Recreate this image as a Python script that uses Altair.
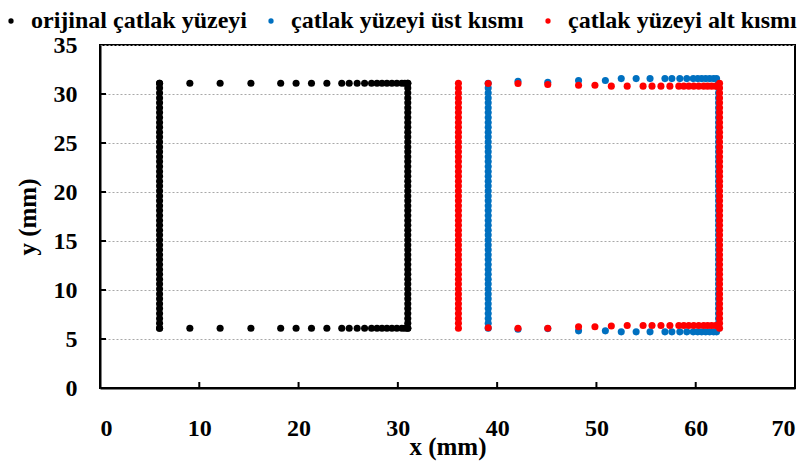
import altair as alt
import pandas as pd

# ---------------- data ----------------
series_names = ["orijinal çatlak yüzeyi", "çatlak yüzeyi üst kısmı", "çatlak yüzeyi alt kısmı"]
series_colors = ["#000000", "#0070C0", "#FF0000"]

# dense vertical columns (y values, mm)
col_y = [6.1, 6.6, 7.1, 7.6, 8.1, 8.6, 9.1, 9.6, 10.1, 10.6, 11.1, 11.6, 12.1, 12.6,
         13.1, 13.6, 14.1, 14.6, 15.1, 15.6, 16.1, 16.6, 17.1, 17.6, 18.1, 18.6, 19.1,
         19.6, 20.1, 20.6, 21.1, 21.6, 22.1, 22.6, 23.1, 23.6, 24.1, 24.6, 25.1, 25.6,
         26.1, 26.6, 27.1, 27.6, 28.1, 28.6, 29.1, 29.6, 30.1, 30.6, 31.1]

# original crack surface (black)
orig_left_x = 6.0
orig_right_x = 31.0
orig_row_x = [6.0, 9.05, 12.1, 15.2, 18.2, 19.75, 21.3, 22.85, 24.35, 25.1, 25.9, 26.65,
              27.35, 27.9, 28.4, 28.9, 29.4, 29.9, 30.4, 30.7, 31.0]
orig_top_y = 31.1
orig_bot_y = 6.1

# upper part (blue)
ust_left_x = 39.1
ust_right_x = 62.3
ust_row_x = [42.1, 45.1, 48.2, 50.9, 52.5, 54.0, 55.4, 56.9, 57.6, 58.4, 59.1, 59.75,
             60.2, 60.6, 61.0, 61.4, 61.8, 62.1]
ust_top_y = [31.3, 31.2, 31.37, 31.37, 31.57, 31.57, 31.57, 31.57, 31.57, 31.57, 31.57,
             31.57, 31.57, 31.57, 31.57, 31.57, 31.57, 31.57]
ust_bot_y = [5.99, 6.06, 5.83, 5.83, 5.73, 5.73, 5.73, 5.73, 5.73, 5.73, 5.73, 5.73,
             5.73, 5.73, 5.73, 5.73, 5.73, 5.73]

# lower part (red)
alt_left_x = 36.1
alt_right_x = 62.4
alt_row_x = [39.1, 42.1, 45.1, 48.2, 49.85, 51.5, 53.1, 54.7, 55.6, 56.5, 57.4, 58.3,
             58.8, 59.3, 59.8, 60.3, 60.8, 61.2, 61.6, 62.0]
alt_top_y = [31.07, 31.07, 30.97, 30.9, 30.9, 30.8, 30.8, 30.8, 30.8, 30.8, 30.8, 30.8,
             30.8, 30.8, 30.8, 30.8, 30.8, 30.8, 30.8, 30.8]
alt_bot_y = [6.15, 6.1, 6.1, 6.25, 6.25, 6.32, 6.38, 6.38, 6.38, 6.38, 6.38, 6.38,
             6.38, 6.38, 6.38, 6.38, 6.38, 6.38, 6.38, 6.38]

x_ticks = [0, 10, 20, 30, 40, 50, 60, 70]
y_ticks = [0, 5, 10, 15, 20, 25, 30, 35]

# ---------------- build table ----------------
rows = []
def add(series, z, xs, ys):
    for xv, yv in zip(xs, ys):
        rows.append({"x": xv, "y": yv, "series": series, "z": z})

s0, s1, s2 = series_names
add(s0, 0, [orig_left_x] * len(col_y), col_y)
add(s0, 0, [orig_right_x] * len(col_y), col_y)
add(s0, 0, orig_row_x, [orig_top_y] * len(orig_row_x))
add(s0, 0, orig_row_x, [orig_bot_y] * len(orig_row_x))

add(s1, 1, [ust_left_x] * len(col_y), col_y)
add(s1, 1, [ust_right_x] * len(col_y), col_y)
add(s1, 1, ust_row_x, ust_top_y)
add(s1, 1, ust_row_x, ust_bot_y)

add(s2, 2, [alt_left_x] * len(col_y), col_y)
add(s2, 2, [alt_right_x] * len(col_y), col_y)
add(s2, 2, alt_row_x, alt_top_y)
add(s2, 2, alt_row_x, alt_bot_y)

df = pd.DataFrame(rows)

W, H = 695, 343
FONT = "Liberation Serif"

xscale = alt.Scale(domain=[0, 70], nice=False, zero=False)
yscale = alt.Scale(domain=[0, 35], nice=False, zero=False)

x_axis = alt.Axis(values=x_ticks, grid=False, ticks=False, tickSize=0,
                  labelPadding=28, title="x (mm)", titleY=58,
                  titleBaseline="middle")
y_axis = alt.Axis(values=y_ticks, grid=True, ticks=False, tickSize=0,
                  labelPadding=23, title="y (mm)", titleX=-73, titleY=H / 2,
                  titleAngle=-90, titleBaseline="middle", titleAlign="center")

points = alt.Chart(df).mark_circle(size=50, opacity=1).encode(
    x=alt.X("x:Q", scale=xscale, axis=x_axis),
    y=alt.Y("y:Q", scale=yscale, axis=y_axis),
    color=alt.Color("series:N",
                    scale=alt.Scale(domain=series_names, range=series_colors),
                    legend=alt.Legend(orient="none", legendX=-101, legendY=-36,
                                      direction="horizontal", title=None,
                                      symbolType="circle", symbolSize=28,
                                      symbolStrokeWidth=0, labelOffset=8,
                                      columnPadding=12)),
    order=alt.Order("z:Q"),
)

ytick_df = pd.DataFrame({"y": y_ticks[1:-1]})
xtick_df = pd.DataFrame({"x": x_ticks[1:-1]})

yticks = alt.Chart(ytick_df).mark_rule(color="black", strokeWidth=2).encode(
    y=alt.Y("y:Q", scale=yscale, axis=y_axis),
    x=alt.value(0), x2=alt.value(6),
)
xticks = alt.Chart(xtick_df).mark_rule(color="black", strokeWidth=2).encode(
    x=alt.X("x:Q", scale=xscale, axis=x_axis),
    y=alt.value(H - 6), y2=alt.value(H),
)

chart = alt.layer(points, yticks, xticks).properties(
    width=W, height=H,
    autosize=alt.AutoSizeParams(type="none"),
    padding={"left": 92, "top": 37, "right": 8, "bottom": 74},
).configure_view(
    stroke="black", strokeWidth=2,
).configure_axis(
    domainColor="black", domainWidth=2,
    labelFont=FONT, labelFontSize=24, labelFontWeight="bold", labelColor="black",
    titleFont=FONT, titleFontSize=25, titleFontWeight="bold", titleColor="black",
    gridColor="#a8a8a8", gridDash=[2, 2], gridWidth=1,
).configure_legend(
    labelFont=FONT, labelFontSize=24, labelFontWeight="bold", labelColor="black",
    labelLimit=0,
)

chart.save("out.html", embed_options={"renderer": "svg", "actions": False})
